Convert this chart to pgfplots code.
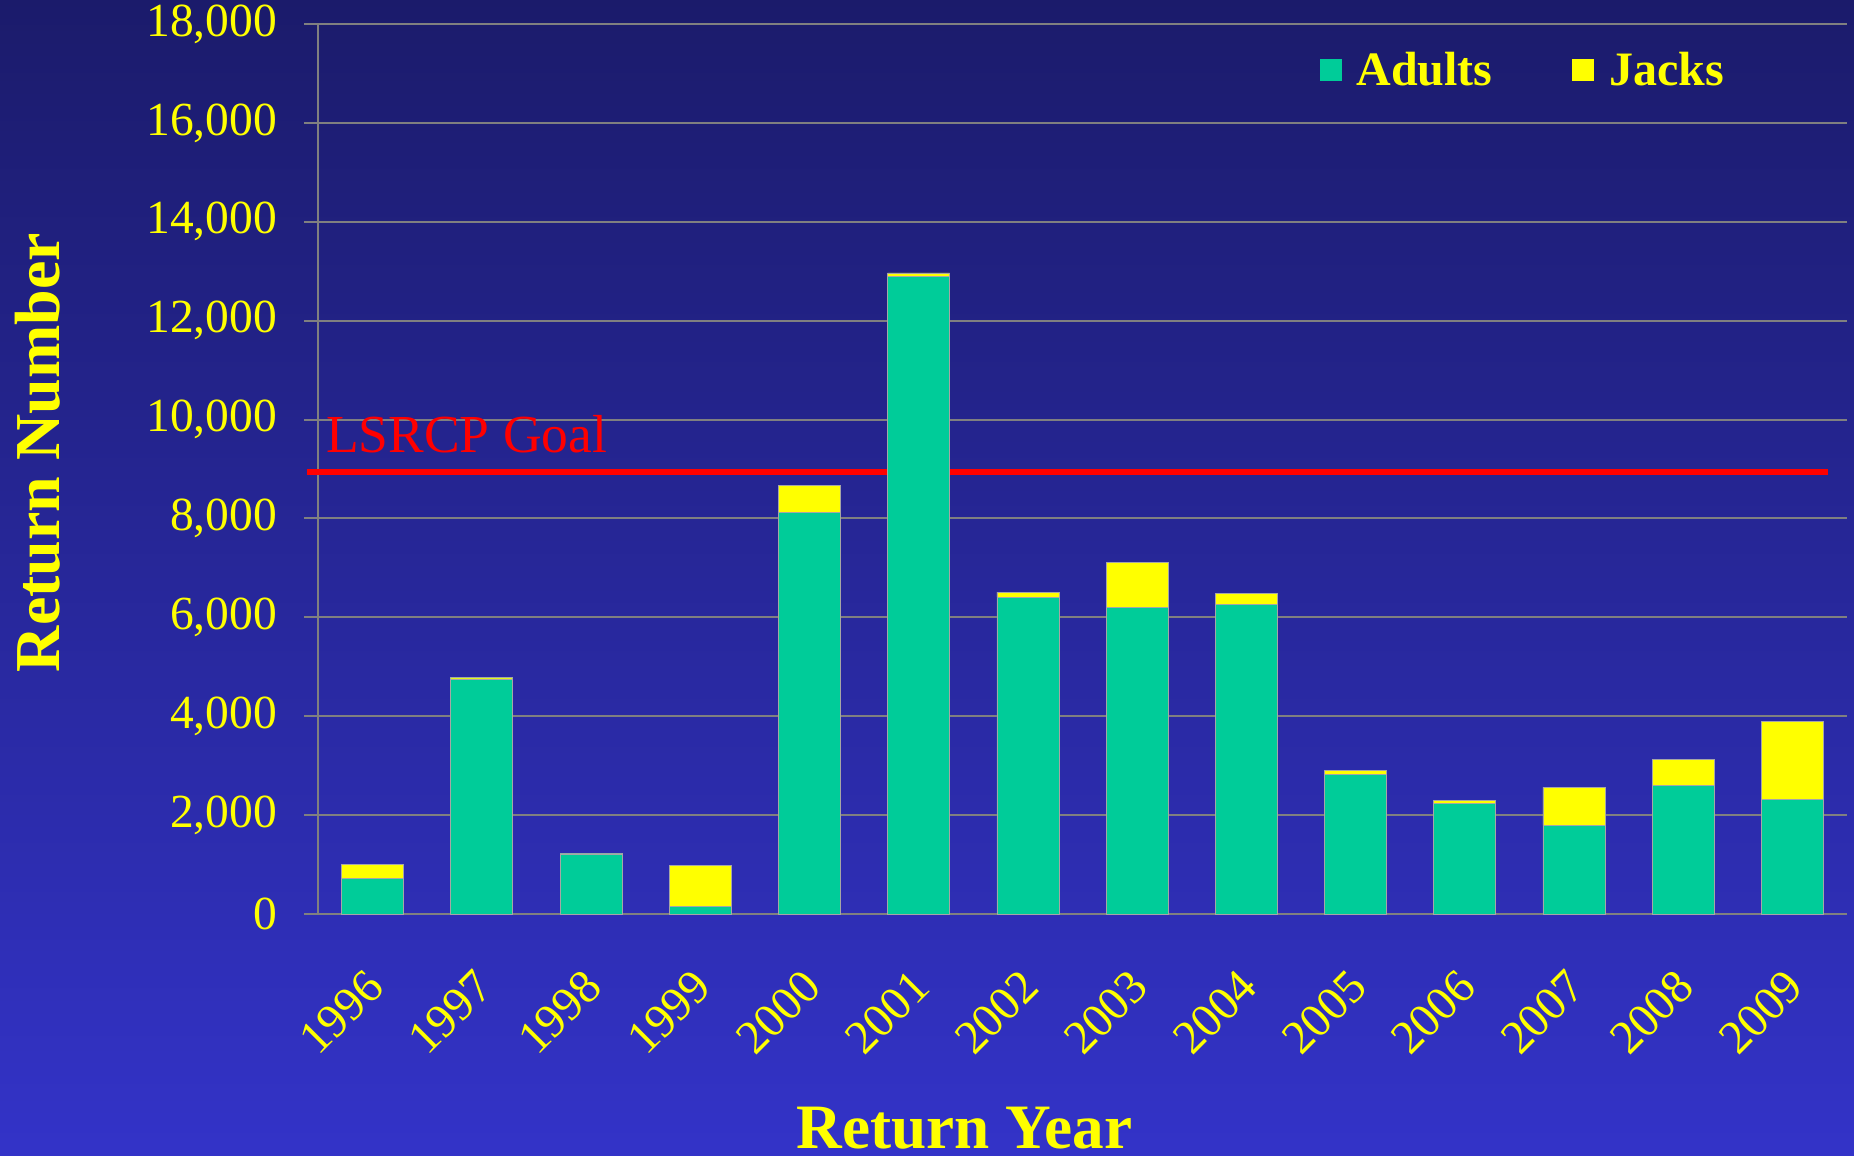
\documentclass[border=0pt]{standalone}
\usepackage{pgfplots}
\usepackage{pgfplotstable}
\pgfplotsset{compat=1.18}
\usepackage{fontspec}
\setmainfont{Liberation Serif}
\definecolor{bgtop}{RGB}{27,27,107}
\definecolor{bgbot}{RGB}{51,51,200}
\definecolor{adult}{RGB}{0,204,153}
\definecolor{jack}{RGB}{255,255,0}
\definecolor{goal}{RGB}{255,0,0}
\definecolor{gridc}{RGB}{128,128,128}

\pgfplotstableread{
x adults jacks
0 715 285
1 4755 25
2 1215 10
3 145 840
4 8130 530
5 12895 70
6 6410 100
7 6205 910
8 6260 220
9 2830 80
10 2240 60
11 1790 770
12 2605 520
13 2320 1575
}\returns

\begin{document}
\begin{tikzpicture}
\shade[top color=bgtop, bottom color=bgbot] (0,0) rectangle (741.6pt,462.4pt);
\begin{axis}[
  at={(127.2pt,96.8pt)}, anchor=south west,
  scale only axis, width=611.6pt, height=356pt,
  xmin=-0.5, xmax=13.5, ymin=0, ymax=18000,
  ybar stacked, bar width=0.568,
  clip=false,
  axis lines=left,
  axis line style={-, gridc, line width=0.8pt},
  ytick={0,2000,...,18000},
  ymajorgrids, grid style={gridc, line width=0.8pt},
  tick align=outside, major tick length=5.6pt,
  ytick style={gridc, line width=0.8pt},
  xtick={0,...,13}, xtick style={draw=none},
  xticklabels={1996,1997,1998,1999,2000,2001,2002,2003,2004,2005,2006,2007,2008,2009},
  xticklabel style={xshift=-3.6pt, yshift=-15.5pt, rotate=45, anchor=north east, inner sep=0pt, text=jack,
    font=\fontsize{19}{19}\selectfont},
  yticklabel style={text=jack, font=\fontsize{19}{19}\selectfont, xshift=-7.3pt},
  /pgf/number format/.cd, 1000 sep={,}, assume math mode=true,
  /pgfplots/.cd,
  scaled y ticks=false,
  legend columns=2,
  legend style={at={(0.6547,0.948)}, anchor=west, draw=none, fill=none,
    inner sep=0pt, text=jack, font=\fontsize{19.2}{19.2}\selectfont\bfseries,
    nodes={inner sep=2pt},
    /tikz/every even column/.append style={column sep=30pt}},
  legend image code/.code={\fill[#1, draw=none] (0pt,-4.4pt) rectangle (8.8pt,4.4pt);
    \path (12.6pt,0pt);},
]
\addplot[fill=adult, draw=gray!70, line width=0.3pt] table[x=x, y=adults] {\returns};
\addplot[fill=jack, draw=gray!70, line width=0.3pt] table[x=x, y=jacks] {\returns};
\legend{Adults, Jacks}
\draw[goal, line width=2.4pt] (axis cs:-0.6,8940) -- (axis cs:13.33,8940);
\node[anchor=base west, inner sep=0pt, text=goal, font=\fontsize{21.4}{21.4}\selectfont]
  at (axis cs:-0.43,9324) {LSRCP Goal};
\end{axis}
\node[anchor=base, inner sep=0pt, text=jack, font=\fontsize{25.3}{25.3}\selectfont\bfseries]
  at (385.8pt,2.8pt) {Return Year};
\node[anchor=base, rotate=90, inner sep=0pt, text=jack, font=\fontsize{25.6}{25.6}\selectfont\bfseries]
  at (24pt,281.4pt) {Return Number};
\pgfresetboundingbox
\useasboundingbox (0,0) rectangle (741.6pt,462.4pt);
\end{tikzpicture}
\end{document}
